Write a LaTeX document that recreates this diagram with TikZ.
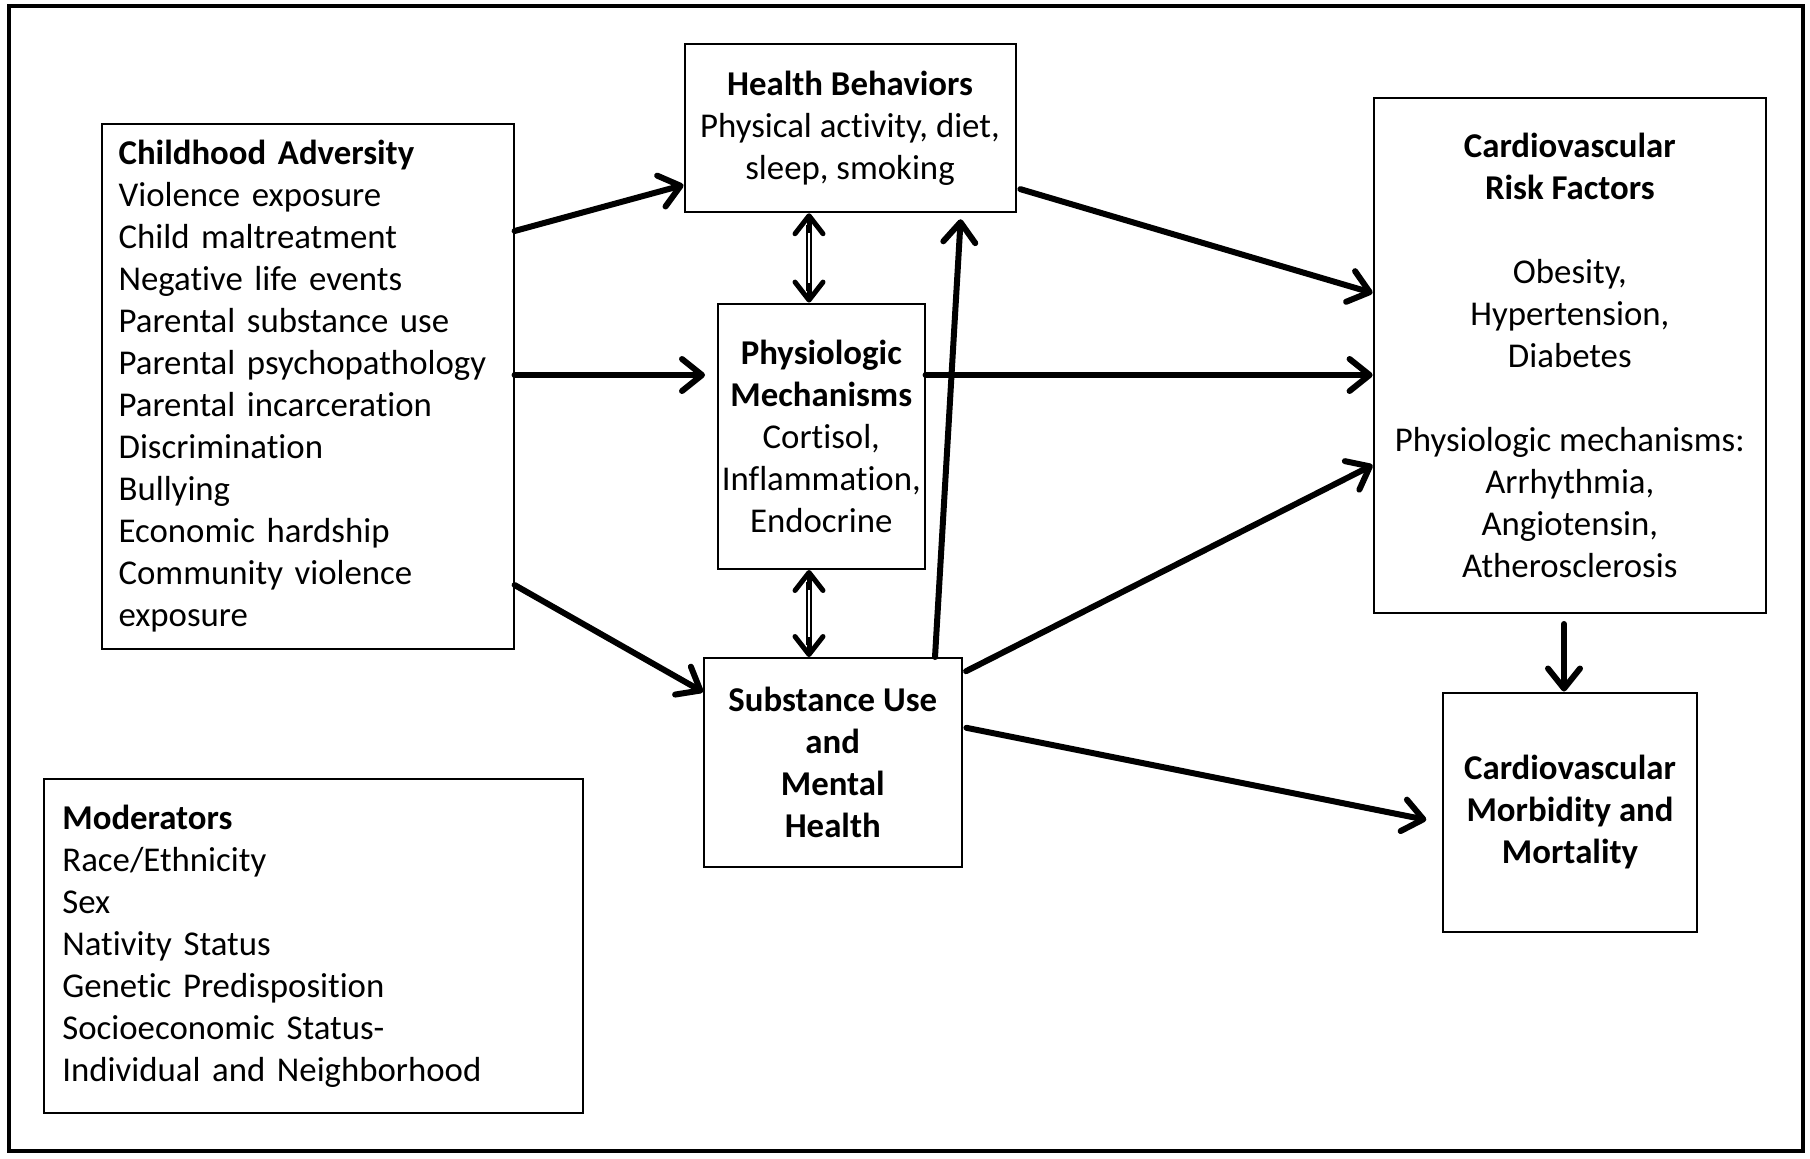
\documentclass[tikz,border=0pt]{standalone}
\usepackage{fontspec}
\setmainfont{Carlito}[Ligatures=NoCommon]
\usetikzlibrary{arrows.meta,calc}
\begin{document}
\begin{tikzpicture}[x=0.5pt,y=-0.5pt,
  box/.style={draw=black, line width=1pt, inner sep=0pt, font=\fontsize{17.4}{21}\selectfont, align=center},
  arr/.style={line width=3pt, line cap=round, -{Straight Barb[length=10pt,width=16pt,round]}},
  dshaft/.style={double, line width=0.9pt, double distance=1.2pt},
  dhead/.style={line width=2.5pt, -{Straight Barb[length=9pt,width=14pt,round]}},
]
\useasboundingbox (0,0) rectangle (1810,1158);
\draw[line width=1.75pt] (9,6) rectangle (1803,1151);

\node[box, minimum height=262.5pt, text width=189pt, align=left, inner xsep=8.5pt] (ca) at (307.6,386)
  {\textbf{Childhood Adversity}\\Violence exposure\\Child maltreatment\\Negative life events\\Parental substance use\\Parental psychopathology\\Parental incarceration\\Discrimination\\Bullying\\Economic hardship\\Community violence\\exposure};
\node[box, minimum width=165.5pt, minimum height=84.25pt] (hb) at (850,128)
  {\textbf{Health Behaviors}\\Physical activity, diet,\\sleep, smoking};
\node[box, minimum width=103.3pt, minimum height=132.7pt] (ph) at (821.3,436.3)
  {\textbf{Physiologic}\\\textbf{Mechanisms}\\Cortisol,\\Inflammation,\\Endocrine};
\node[box, minimum width=128.75pt, minimum height=104.5pt] (su) at (832.75,762.5)
  {\textbf{Substance Use}\\\textbf{and}\\\textbf{Mental}\\\textbf{Health}};
\node[box, minimum width=196.2pt, minimum height=257.5pt] (cvr) at (1569.8,355.5)
  {\textbf{Cardiovascular}\\\textbf{Risk Factors}\\[21pt]Obesity,\\Hypertension,\\Diabetes\\[21pt]Physiologic mechanisms:\\Arrhythmia,\\Angiotensin,\\Atherosclerosis};
\node[box, minimum width=127pt, minimum height=119.5pt] (mo) at (1570,812)
  {\textbf{Cardiovascular}\\\textbf{Morbidity and}\\\textbf{Mortality}};
\node[box, minimum height=167pt, text width=251.1pt, align=left, inner xsep=9.2pt] (md) at (313.5,946)
  {\textbf{Moderators}\\Race/Ethnicity\\Sex\\Nativity Status\\Genetic Predisposition\\Socioeconomic Status-\\Individual and Neighborhood};

% main arrows
\draw[arr] (ca.east |- 0,231) -- (hb.west |- 0,185);
\draw[arr, shorten >=6pt] (ca.east |- 0,375) -- (ph.west |- 0,375);
\draw[arr] (ca.east |- 0,585) -- (su.west |- 0,692);
\draw[arr, shorten <=2pt] (hb.east |- 0,188) -- (cvr.west |- 0,293);
\draw[arr] (ph.east |- 0,375) -- (cvr.west |- 0,375);
\draw[arr, shorten <=2pt] (su.east |- 0,673) -- (cvr.west |- 0,465);
\draw[arr, shorten >=3pt] (su.north -| 935,0) -- (hb.south -| 961,0);
\draw[arr, shorten <=2pt, shorten >=8pt] (su.east |- 0,727) -- (mo.west |- 0,823);
\draw[arr, shorten <=5pt] (cvr.south -| 1564,0) -- (mo.north -| 1564,0);

% double arrows
\draw[dshaft, shorten <=6pt, shorten >=6pt] (hb.south -| 809,0) -- (ph.north -| 809,0);
\draw[dhead] ($(hb.south -| 809,0)+(0,20)$) -- (hb.south -| 809,0);
\draw[dhead] ($(ph.north -| 809,0)+(0,-20)$) -- (ph.north -| 809,0);
\draw[dshaft, shorten <=6pt, shorten >=6pt] (ph.south -| 809,0) -- (su.north -| 809,0);
\draw[dhead] ($(ph.south -| 809,0)+(0,20)$) -- (ph.south -| 809,0);
\draw[dhead] ($(su.north -| 809,0)+(0,-20)$) -- (su.north -| 809,0);
\end{tikzpicture}
\end{document}
